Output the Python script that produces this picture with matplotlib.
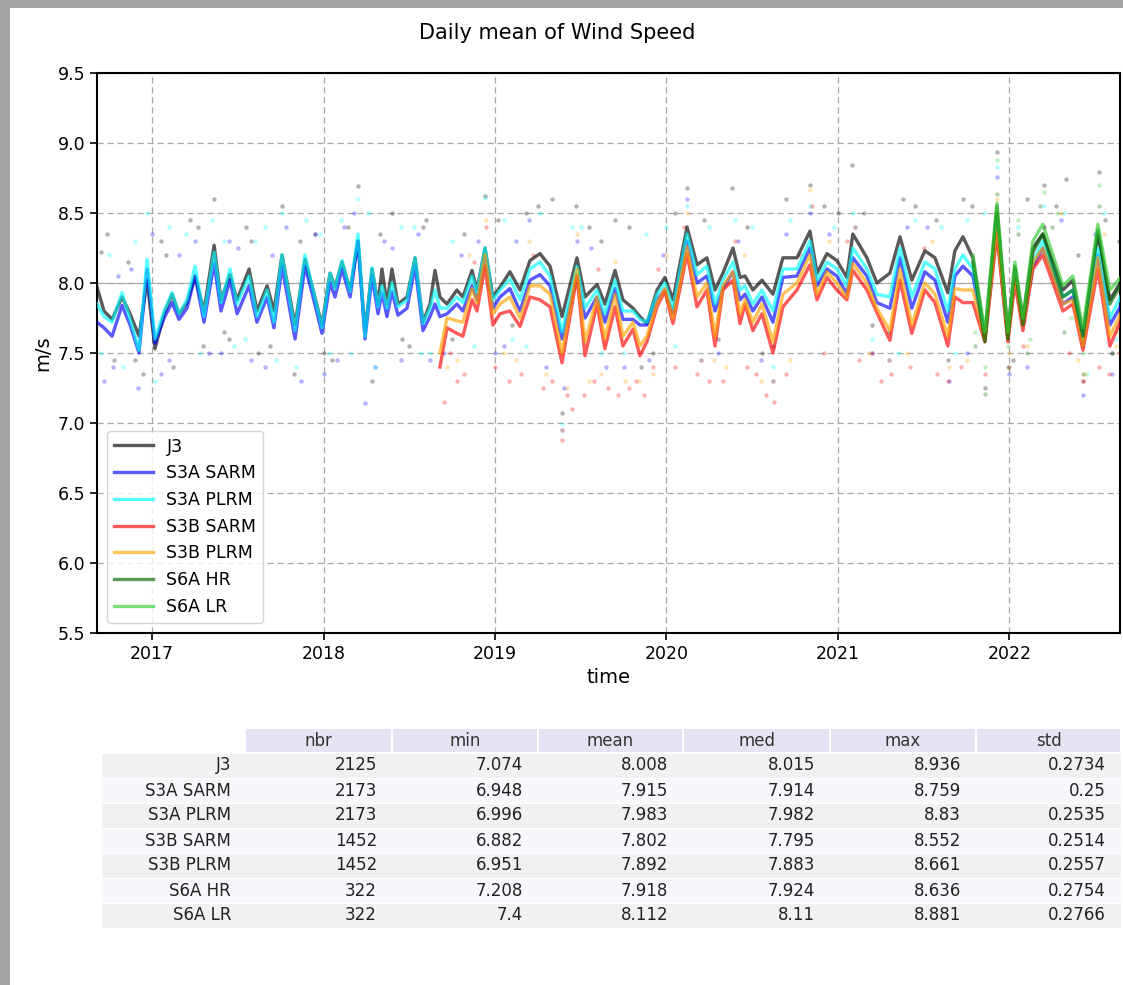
import matplotlib
matplotlib.use('Agg')
import matplotlib.pyplot as plt
from matplotlib.patches import Rectangle
import numpy as np

# ---------------- data (decimal years / m/s) ----------------
t_main = [2016.679, 2016.720, 2016.767, 2016.825, 2016.872, 2016.924, 2016.971, 2017.017, 2017.070, 2017.117,
          2017.157, 2017.204, 2017.251, 2017.303, 2017.362, 2017.402, 2017.455, 2017.496, 2017.566, 2017.612,
          2017.671, 2017.711, 2017.758, 2017.834, 2017.892, 2017.939, 2017.991, 2018.038, 2018.067, 2018.108,
          2018.155, 2018.201, 2018.242, 2018.283, 2018.318, 2018.341, 2018.370, 2018.399, 2018.434, 2018.487,
          2018.534, 2018.580, 2018.621, 2018.650, 2018.679, 2018.720, 2018.778, 2018.813, 2018.866, 2018.895,
          2018.942, 2018.988, 2019.029, 2019.087, 2019.146, 2019.204, 2019.262, 2019.321, 2019.391, 2019.478,
          2019.525, 2019.595, 2019.641, 2019.700, 2019.746, 2019.805, 2019.845, 2019.886, 2019.945, 2019.991,
          2020.038, 2020.120, 2020.178, 2020.236, 2020.283, 2020.329, 2020.388, 2020.429, 2020.458, 2020.504,
          2020.557, 2020.621, 2020.679, 2020.761, 2020.837, 2020.878, 2020.936, 2020.994, 2021.052, 2021.087,
          2021.169, 2021.227, 2021.303, 2021.362, 2021.431, 2021.507, 2021.566, 2021.641, 2021.682, 2021.729,
          2021.787, 2021.857, 2021.927, 2021.991, 2022.032, 2022.079, 2022.137, 2022.195, 2022.254, 2022.312,
          2022.370, 2022.429, 2022.516, 2022.586, 2022.656]

j3 = [7.97, 7.80, 7.74, 7.90, 7.78, 7.62, 8.02, 7.53, 7.78, 7.92,
      7.78, 7.86, 8.05, 7.80, 8.27, 7.88, 8.06, 7.88, 8.10, 7.80,
      7.98, 7.80, 8.20, 7.70, 8.17, 7.95, 7.70, 8.07, 7.97, 8.15,
      7.95, 8.30, 7.65, 8.10, 7.85, 8.10, 7.85, 8.10, 7.85, 7.90,
      8.18, 7.72, 7.85, 8.09, 7.90, 7.85, 7.95, 7.90, 8.09, 7.95,
      8.25, 7.90, 7.97, 8.08, 7.95, 8.16, 8.21, 8.12, 7.76, 8.18,
      7.90, 7.99, 7.85, 8.09, 7.88, 7.82, 7.76, 7.71, 7.95, 8.04,
      7.88, 8.40, 8.13, 8.18, 7.95, 8.07, 8.25, 8.04, 8.05, 7.95,
      8.02, 7.92, 8.18, 8.18, 8.37, 8.07, 8.21, 8.16, 8.04, 8.35,
      8.18, 8.00, 8.07, 8.33, 8.02, 8.23, 8.18, 7.93, 8.23, 8.33,
      8.18, 7.62, 8.50, 7.65, 8.10, 7.75, 8.25, 8.35, 8.15, 7.95,
      8.02, 7.62, 8.35, 7.88, 8.02]

s3a_plrm = [7.85, 7.76, 7.72, 7.93, 7.74, 7.52, 8.17, 7.60, 7.80, 7.93,
            7.78, 7.88, 8.12, 7.76, 8.22, 7.86, 8.10, 7.85, 8.05, 7.76,
            7.95, 7.72, 8.20, 7.66, 8.20, 7.95, 7.68, 8.07, 7.96, 8.16,
            7.94, 8.35, 7.62, 8.11, 7.83, 7.98, 7.82, 8.00, 7.83, 7.88,
            8.18, 7.71, 7.82, 7.95, 7.82, 7.82, 7.90, 7.86, 8.05, 7.93,
            8.25, 7.88, 7.95, 8.03, 7.88, 8.10, 8.15, 8.05, 7.65, 8.12,
            7.82, 7.95, 7.78, 8.02, 7.80, 7.80, 7.74, 7.72, 7.92, 8.00,
            7.82, 8.35, 8.06, 8.12, 7.85, 8.02, 8.15, 7.95, 7.98, 7.85,
            7.95, 7.80, 8.10, 8.10, 8.30, 8.02, 8.15, 8.10, 7.98, 8.25,
            8.10, 7.92, 7.90, 8.25, 7.90, 8.15, 8.10, 7.80, 8.10, 8.20,
            8.10, 7.62, 8.42, 7.62, 8.08, 7.72, 8.15, 8.30, 8.10, 7.90,
            7.95, 7.58, 8.25, 7.75, 7.92]

s3a_sarm = [7.72, 7.68, 7.62, 7.84, 7.70, 7.50, 8.10, 7.57, 7.75, 7.86,
            7.74, 7.82, 8.05, 7.72, 8.14, 7.80, 8.02, 7.78, 7.98, 7.72,
            7.90, 7.68, 8.12, 7.60, 8.12, 7.90, 7.64, 8.00, 7.90, 8.10,
            7.90, 8.30, 7.60, 8.05, 7.78, 7.93, 7.76, 7.94, 7.77, 7.82,
            8.12, 7.66, 7.76, 7.85, 7.76, 7.78, 7.85, 7.80, 7.98, 7.88,
            8.18, 7.82, 7.90, 7.96, 7.80, 8.02, 8.06, 7.98, 7.60, 8.06,
            7.75, 7.90, 7.72, 7.96, 7.74, 7.74, 7.70, 7.70, 7.88, 7.95,
            7.78, 8.30, 8.00, 8.05, 7.80, 7.96, 8.08, 7.88, 7.92, 7.80,
            7.90, 7.72, 8.04, 8.05, 8.25, 7.98, 8.10, 8.05, 7.92, 8.18,
            8.05, 7.86, 7.82, 8.18, 7.82, 8.08, 8.02, 7.72, 8.05, 8.12,
            8.05, 7.60, 8.38, 7.60, 8.05, 7.70, 8.12, 8.25, 8.05, 7.85,
            7.90, 7.55, 8.20, 7.70, 7.85]

t_s3b = t_main[44:]
s3b_sarm = [7.40, 7.68, 7.64, 7.62, 7.88, 7.80, 8.12, 7.70, 7.78, 7.80,
            7.69, 7.90, 7.88, 7.83, 7.43, 8.05, 7.48, 7.85, 7.53, 7.83,
            7.55, 7.67, 7.48, 7.58, 7.83, 7.94, 7.71, 8.21, 7.83, 7.95,
            7.55, 7.95, 8.02, 7.71, 7.85, 7.66, 7.78, 7.50, 7.83, 7.95,
            8.13, 7.88, 8.04, 7.95, 7.88, 8.09, 7.95, 7.79, 7.59, 8.02,
            7.64, 7.95, 7.86, 7.55, 7.90, 7.86, 7.86, 7.58, 8.35, 7.58,
            8.00, 7.66, 8.10, 8.20, 8.00, 7.80, 7.85, 7.52, 8.10, 7.55,
            7.75]
s3b_plrm = [7.50, 7.75, 7.73, 7.72, 7.96, 7.86, 8.20, 7.78, 7.85, 7.90,
            7.75, 7.98, 7.98, 7.92, 7.50, 8.10, 7.58, 7.90, 7.60, 7.92,
            7.62, 7.72, 7.55, 7.62, 7.86, 7.96, 7.75, 8.26, 7.90, 8.00,
            7.62, 7.98, 8.08, 7.78, 7.88, 7.72, 7.85, 7.58, 7.92, 8.00,
            8.20, 7.92, 8.08, 8.00, 7.90, 8.14, 8.00, 7.82, 7.66, 8.10,
            7.70, 8.00, 7.92, 7.62, 7.96, 7.95, 7.95, 7.60, 8.40, 7.60,
            8.05, 7.70, 8.15, 8.25, 8.05, 7.85, 7.88, 7.55, 8.18, 7.62,
            7.80]

t_s6a = t_main[100:]
s6a_hr = [8.15, 7.58, 8.55, 7.60, 8.12, 7.70, 8.22, 8.35, 8.12, 7.90, 7.95, 7.62, 8.38, 7.85, 8.00]
s6a_lr = [8.20, 7.65, 8.57, 7.65, 8.15, 7.75, 8.30, 8.42, 8.20, 7.98, 8.05, 7.68, 8.42, 7.95, 8.05]

# daily-value dots (sparse estimate of the visible scatter)
j3_dot_t = [2016.70, 2016.78, 2016.86, 2016.95, 2017.05, 2017.12, 2017.22, 2017.30, 2017.36, 2017.45,
            2017.55, 2017.62, 2017.76, 2017.83, 2017.95, 2018.05, 2018.20, 2018.28, 2018.40, 2018.50,
            2018.60, 2018.75, 2018.94, 2019.10, 2019.25, 2019.39, 2019.55, 2019.70, 2019.85, 2020.05,
            2020.12, 2020.30, 2020.38, 2020.62, 2020.84, 2021.00, 2021.08, 2021.30, 2021.45, 2021.64,
            2021.73, 2021.86, 2021.93, 2022.20, 2022.33, 2022.43, 2022.52, 2022.60,
            2016.74, 2016.90, 2017.08, 2017.27, 2017.42, 2017.58, 2017.69, 2017.86, 2018.00, 2018.14,
            2018.33, 2018.46, 2018.58, 2018.82, 2019.02, 2019.18, 2019.33, 2019.47, 2019.62, 2019.78,
            2019.92, 2020.22, 2020.47, 2020.56, 2020.70, 2020.92, 2021.15, 2021.20, 2021.38, 2021.57,
            2021.78, 2022.02, 2022.10, 2022.27, 2022.40, 2022.56, 2022.64]
j3_dot_v = [8.22, 7.45, 8.15, 7.35, 8.30, 7.40, 8.45, 7.55, 8.60, 7.60,
            8.40, 7.50, 8.55, 7.35, 8.35, 7.45, 8.69, 7.30, 8.50, 7.55,
            8.45, 7.60, 8.62, 7.70, 8.55, 7.074, 8.40, 8.45, 7.40, 8.50,
            8.68, 7.60, 8.68, 7.55, 8.70, 8.50, 8.84, 7.65, 8.55, 7.45,
            8.60, 7.25, 8.936, 8.70, 8.74, 7.30, 8.79, 7.50,
            8.35, 7.45, 8.20, 8.40, 7.65, 8.30, 7.55, 8.30, 7.50, 8.40,
            8.35, 7.60, 8.40, 8.35, 8.45, 8.50, 8.60, 8.55, 8.30, 8.40,
            7.50, 8.45, 8.40, 7.50, 8.60, 8.55, 8.50, 7.70, 8.60, 8.45,
            8.55, 7.45, 8.60, 8.55, 8.20, 8.45, 8.30]
sarm_dot_t = [2016.72, 2016.80, 2016.92, 2017.00, 2017.10, 2017.25, 2017.40, 2017.50, 2017.66, 2017.78,
              2017.87, 2018.00, 2018.12, 2018.24, 2018.35, 2018.45, 2018.55, 2018.70, 2018.90, 2019.05,
              2019.20, 2019.40, 2019.48, 2019.65, 2019.90, 2020.12, 2020.30, 2020.55, 2020.70, 2020.84,
              2021.10, 2021.30, 2021.52, 2021.65, 2021.93, 2022.10, 2022.30, 2022.43, 2022.60, 2019.39,
              2016.77, 2016.88, 2017.05, 2017.16, 2017.33, 2017.45, 2017.58, 2017.70, 2017.95, 2018.08,
              2018.18, 2018.30, 2018.40, 2018.62, 2018.80, 2019.00, 2019.12, 2019.30, 2019.56, 2019.75,
              2019.98, 2020.20, 2020.42, 2020.62, 2020.95, 2021.20, 2021.40, 2021.75, 2022.00, 2022.20,
              2022.50]
sarm_dot_v = [7.30, 8.05, 7.25, 8.35, 7.45, 8.30, 7.50, 8.25, 7.40, 8.40,
              7.30, 7.35, 8.40, 7.14, 8.30, 7.45, 8.35, 7.50, 8.30, 7.55,
              8.45, 7.25, 8.30, 7.40, 7.45, 8.60, 7.50, 7.45, 8.35, 8.50,
              8.40, 7.45, 8.40, 7.30, 8.759, 7.40, 8.45, 7.20, 7.35, 6.948,
              7.40, 8.10, 7.35, 8.20, 7.50, 8.30, 7.45, 8.20, 8.35, 7.45,
              8.50, 7.40, 8.25, 7.45, 8.20, 7.50, 8.30, 7.40, 8.25, 7.40,
              8.20, 7.45, 8.30, 7.30, 8.35, 7.50, 8.40, 7.50, 7.35, 8.40,
              8.35]
plrm_dot_t = [2016.75, 2016.83, 2016.97, 2017.02, 2017.20, 2017.35, 2017.48, 2017.60, 2017.72, 2017.76,
              2017.90, 2018.03, 2018.10, 2018.20, 2018.30, 2018.53, 2018.62, 2018.94, 2019.10, 2019.26,
              2019.39, 2019.50, 2019.75, 2020.00, 2020.12, 2020.40, 2020.62, 2020.84, 2021.09, 2021.35,
              2021.60, 2021.75, 2021.93, 2022.20, 2022.45, 2022.55,
              2016.70, 2016.90, 2017.10, 2017.28, 2017.42, 2017.54, 2017.66, 2017.84, 2017.98, 2018.16,
              2018.26, 2018.45, 2018.57, 2018.75, 2018.88, 2019.05, 2019.18, 2019.45, 2019.62, 2019.88,
              2020.05, 2020.25, 2020.50, 2020.72, 2020.98, 2021.20, 2021.45, 2021.68, 2021.85, 2022.05,
              2022.32, 2022.62]
plrm_dot_v = [8.20, 7.40, 8.50, 7.30, 8.35, 8.45, 7.55, 8.30, 7.45, 8.50,
              8.45, 7.50, 8.45, 8.60, 7.40, 8.40, 7.50, 8.61, 7.60, 8.50,
              6.996, 8.40, 7.50, 8.40, 8.55, 8.45, 7.40, 8.55, 8.50, 7.50,
              8.40, 8.45, 8.83, 8.55, 7.35, 8.50,
              7.50, 8.30, 8.40, 7.50, 8.30, 7.60, 8.40, 7.40, 8.35, 7.50,
              8.50, 8.40, 7.50, 8.30, 7.55, 8.45, 7.55, 8.40, 7.50, 8.35,
              7.55, 8.40, 8.40, 8.45, 8.40, 7.60, 8.45, 7.50, 8.50, 8.40,
              8.50, 7.60]
s3bs_dot_t = [2018.70, 2018.78, 2018.88, 2018.95, 2019.00, 2019.15, 2019.22, 2019.33, 2019.39, 2019.45,
              2019.52, 2019.60, 2019.66, 2019.78, 2019.87, 2019.95, 2020.10, 2020.25, 2020.40, 2020.52,
              2020.63, 2020.78, 2020.85, 2021.05, 2021.20, 2021.31, 2021.50, 2021.64, 2021.86, 2022.00,
              2022.20, 2022.43, 2022.58,
              2018.74, 2018.82, 2019.08, 2019.28, 2019.42, 2019.58, 2019.72, 2019.82, 2019.92, 2020.05,
              2020.18, 2020.33, 2020.47, 2020.58, 2020.70, 2020.92, 2021.12, 2021.25, 2021.42, 2021.58,
              2021.72, 2022.08, 2022.35, 2022.52, 2022.64]
s3bs_dot_v = [7.15, 7.30, 8.15, 8.40, 7.40, 7.35, 8.20, 7.30, 6.882, 7.10,
              7.20, 8.10, 7.25, 7.25, 7.20, 8.10, 8.40, 7.30, 8.30, 7.35,
              7.15, 8.20, 8.552, 8.30, 7.50, 7.35, 8.25, 7.30, 7.35, 7.40,
              8.40, 7.30, 7.35,
              7.50, 7.35, 7.30, 7.25, 7.20, 7.30, 7.20, 7.30, 7.40, 7.40,
              7.35, 7.30, 7.40, 7.20, 7.35, 7.50, 7.45, 7.30, 7.40, 7.35,
              7.40, 7.55, 7.50, 7.40, 7.50]
s3bp_dot_t = [2018.72, 2018.85, 2018.95, 2019.05, 2019.20, 2019.39, 2019.48, 2019.55, 2019.70, 2019.84,
              2020.00, 2020.12, 2020.28, 2020.45, 2020.62, 2020.84, 2021.10, 2021.30, 2021.55, 2021.65,
              2021.93, 2022.10, 2022.30, 2022.44, 2022.55,
              2018.78, 2019.12, 2019.30, 2019.42, 2019.62, 2019.76, 2019.92, 2020.20, 2020.35, 2020.55,
              2020.72, 2020.95, 2021.18, 2021.40, 2021.75, 2022.00, 2022.40, 2022.62]
s3bp_dot_v = [7.40, 8.20, 8.45, 7.50, 8.30, 6.951, 8.35, 7.30, 8.15, 7.30,
              8.20, 8.50, 7.45, 8.20, 7.30, 8.661, 8.40, 7.45, 8.30, 7.40,
              8.60, 7.55, 8.50, 7.35, 8.35,
              7.45, 7.45, 7.35, 7.25, 7.35, 7.30, 7.35, 7.45, 7.40, 7.30,
              7.45, 8.30, 7.50, 7.50, 7.45, 7.50, 7.45, 7.55]
hr_dot_t = [2021.80, 2021.86, 2021.93, 2021.99, 2022.05, 2022.10, 2022.18, 2022.25, 2022.32, 2022.43, 2022.52, 2022.60]
hr_dot_v = [7.55, 7.208, 8.636, 7.40, 8.35, 7.50, 8.55, 8.40, 7.65, 7.35, 8.55, 7.50]
lr_dot_t = [2021.80, 2021.86, 2021.93, 2021.99, 2022.05, 2022.12, 2022.20, 2022.28, 2022.36, 2022.43, 2022.52, 2022.62]
lr_dot_v = [7.65, 7.40, 8.881, 7.55, 8.45, 7.60, 8.65, 8.50, 7.75, 7.50, 8.70, 7.65]

series_names = ['J3', 'S3A SARM', 'S3A PLRM', 'S3B SARM', 'S3B PLRM', 'S6A HR', 'S6A LR']
year_ticks = [2017, 2018, 2019, 2020, 2021, 2022]

# statistics table
stat_cols = ['nbr', 'min', 'mean', 'med', 'max', 'std']
stat_nbr = [2125, 2173, 2173, 1452, 1452, 322, 322]
stat_min = [7.074, 6.948, 6.996, 6.882, 6.951, 7.208, 7.4]
stat_mean = [8.008, 7.915, 7.983, 7.802, 7.892, 7.918, 8.112]
stat_med = [8.015, 7.914, 7.982, 7.795, 7.883, 7.924, 8.11]
stat_max = [8.936, 8.759, 8.83, 8.552, 8.661, 8.636, 8.881]
stat_std = [0.2734, 0.25, 0.2535, 0.2514, 0.2557, 0.2754, 0.2766]

# ---------------- figure ----------------
W, H = 1123, 985
fig = plt.figure(figsize=(W / 100, H / 100), dpi=100)
fig.patch.set_facecolor('white')

# screenshot frame
fig.patches.append(Rectangle((0, 0), 10 / W, 1, transform=fig.transFigure,
                             facecolor='#a4a4a4', edgecolor='none', zorder=0))
fig.patches.append(Rectangle((0, 1 - 8 / H), 1, 8 / H, transform=fig.transFigure,
                             facecolor='#a4a4a4', edgecolor='none', zorder=0))

ax = fig.add_axes([97 / W, 1 - 633 / H, (1120 - 97) / W, (633 - 73) / H])

colors = ['black', 'blue', 'cyan', 'red', 'orange', 'darkgreen', 'limegreen']
line_data = [(t_main, j3), (t_main, s3a_sarm), (t_main, s3a_plrm), (t_s3b, s3b_sarm),
             (t_s3b, s3b_plrm), (t_s6a, s6a_hr), (t_s6a, s6a_lr)]
dot_data = [(j3_dot_t, j3_dot_v), (sarm_dot_t, sarm_dot_v), (plrm_dot_t, plrm_dot_v),
            (s3bs_dot_t, s3bs_dot_v), (s3bp_dot_t, s3bp_dot_v), (hr_dot_t, hr_dot_v), (lr_dot_t, lr_dot_v)]

for (dt, dv), c in zip(dot_data, colors):
    ax.scatter(dt, dv, s=10, color=c, alpha=0.3, linewidths=0, zorder=2)

for (lt, lv), c, name in zip(line_data, colors, series_names):
    ax.plot(lt, lv, color=c, lw=2.4, alpha=0.65, label=name, zorder=3)

ax.axhline(8.0, color='#999999', lw=0.9, alpha=0.7, zorder=1)

ax.set_xlim(2016.679, 2022.645)
ax.set_ylim(5.5, 9.5)
ax.set_yticks(np.arange(5.5, 9.51, 0.5))
ax.set_yticklabels(['%.1f' % v for v in np.arange(5.5, 9.51, 0.5)])
ax.set_xticks(year_ticks)
ax.set_xticklabels([str(y) for y in year_ticks])
ax.tick_params(labelsize=12.5, length=5, width=1.2)
ax.grid(True, linestyle=(0, (5, 3)), color='#a8a8a8', lw=0.9, zorder=0)
for sp in ax.spines.values():
    sp.set_linewidth(1.5)
ax.set_xlabel('time', fontsize=14)
ax.set_ylabel('m/s', fontsize=14)

leg = ax.legend(loc='lower left', fontsize=12.5, frameon=True, framealpha=0.8,
                edgecolor='#cccccc', handlelength=2.2, borderaxespad=0.6, labelspacing=0.5)

fig.text(557 / W, 1 - 33 / H, 'Daily mean of Wind Speed', fontsize=15,
         ha='center', va='center')

# ---------------- table ----------------
col_edges = [102, 245, 392, 538, 683, 830, 976, 1121]
head_top, head_bot = 729, 753
row_h = 25.0

def fx(px):
    return px / W

def fy(py):
    return 1 - py / H

def cell(x0, x1, y0, y1, color):
    fig.patches.append(Rectangle((fx(x0), fy(y1)), fx(x1) - fx(x0), fy(y0) - fy(y1),
                                 transform=fig.transFigure, facecolor=color,
                                 edgecolor='none', zorder=1))

for k, name in enumerate(stat_cols):
    x0, x1 = col_edges[k + 1], col_edges[k + 2]
    cell(x0 + 1, x1 - 1, head_top, head_bot - 1, '#e4e4f4')
    fig.text(fx((x0 + x1) / 2), fy((head_top + head_bot) / 2), name, fontsize=12,
             ha='center', va='center', color='#333333')

columns_vals = [stat_nbr, stat_min, stat_mean, stat_med, stat_max, stat_std]
for i, rname in enumerate(series_names):
    y0 = head_bot + i * row_h
    y1 = y0 + row_h
    bg = '#f1f1f1' if i % 2 == 0 else '#f8f8fc'
    cell(col_edges[0], col_edges[-1], y0 + 0.5, y1 - 0.5, bg)
    fig.text(fx(col_edges[1] - 14), fy((y0 + y1) / 2), rname, fontsize=12,
             ha='right', va='center', color='#222222')
    for k, vals in enumerate(columns_vals):
        v = vals[i]
        txt = '{:.4g}'.format(v)
        fig.text(fx(col_edges[k + 2] - 15), fy((y0 + y1) / 2), txt, fontsize=12,
                 ha='right', va='center', color='#222222')

fig.savefig('out.png', dpi=100)
